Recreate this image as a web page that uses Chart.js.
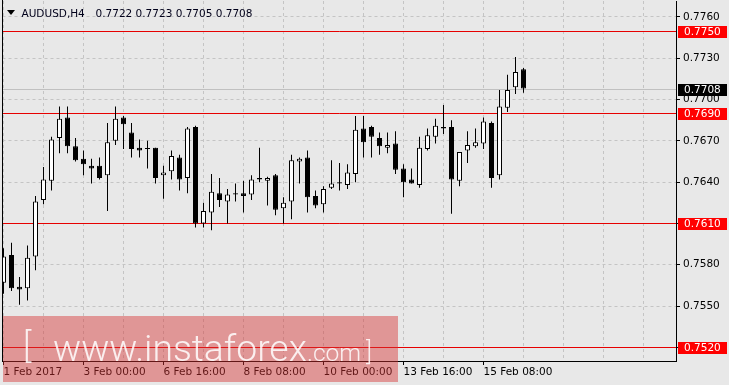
<!DOCTYPE html>
<html><head><meta charset="utf-8">
<script src="https://cdn.jsdelivr.net/npm/chart.js@4/dist/chart.umd.min.js"></script>
<style>html,body{margin:0;padding:0;background:#e8e8e8;overflow:hidden}canvas{display:block}</style>
</head><body>
<canvas id="c" width="729" height="385"></canvas>
<script>
const symbolTitle = 'AUDUSD,H4';
const xLabels = ['1 Feb 2017','3 Feb 00:00','6 Feb 16:00','8 Feb 08:00','10 Feb 00:00','13 Feb 16:00','15 Feb 08:00'];
const xLabelIdx = [0,10,20,30,40,50,60];
const yTicks = [0.7520,0.7550,0.7580,0.7610,0.7640,0.7670,0.7700,0.7730,0.7760];
const levels = [0.7750,0.7690,0.7610,0.7520];
const lastPrice = 0.7708;

const open = [0.7567,0.7587,0.7564,0.7563,0.7586,0.7627,0.7641,0.7672,0.7687,0.7666,
0.7657,0.7652,0.7652,0.7645,0.7670,0.7687,0.7676,0.7665,0.7664,0.7665,
0.7645,0.7648,0.7658,0.7643,0.7680,0.7610,0.7618,0.7632,0.7626,0.7632,
0.7632,0.7631,0.7643,0.7641,0.7645,0.7621,0.7626,0.7655,0.7658,0.7630,
0.7624,0.7636,0.7640,0.7638,0.7646,0.7679,0.7680,0.7672,0.7665,0.7668,
0.7650,0.7642,0.7638,0.7664,0.7673,0.7680,0.7680,0.7641,0.7663,0.7666,
0.7668,0.7683,0.7645,0.7694,0.7709,0.7722];
const high = [0.7592,0.7596,0.7571,0.7594,0.7630,0.7651,0.7673,0.7695,0.7695,0.7672,
0.7663,0.7657,0.7658,0.7683,0.7695,0.7688,0.7683,0.7671,0.7670,0.7665,
0.7652,0.7663,0.7660,0.7680,0.7681,0.7625,0.7646,0.7643,0.7635,0.7639,
0.7641,0.7645,0.7665,0.7644,0.7646,0.7629,0.7660,0.7658,0.7663,0.7634,
0.7637,0.7656,0.7654,0.7653,0.7688,0.7688,0.7681,0.7676,0.7676,0.7677,
0.7653,0.7650,0.7673,0.7679,0.7686,0.7696,0.7685,0.7662,0.7677,0.7679,
0.7687,0.7684,0.7707,0.7718,0.7731,0.7723];
const low = [0.7559,0.7561,0.7551,0.7554,0.7576,0.7624,0.7634,0.7661,0.7661,0.7655,
0.7645,0.7639,0.7642,0.7619,0.7667,0.7664,0.7658,0.7658,0.7650,0.7639,
0.7628,0.7642,0.7634,0.7632,0.7607,0.7607,0.7605,0.7622,0.7610,0.7626,
0.7618,0.7627,0.7640,0.7623,0.7616,0.7610,0.7613,0.7639,0.7618,0.7621,
0.7618,0.7635,0.7634,0.7635,0.7640,0.7658,0.7658,0.7660,0.7661,0.7646,
0.7629,0.7639,0.7636,0.7663,0.7668,0.7675,0.7617,0.7637,0.7654,0.7665,
0.7664,0.7636,0.7642,0.7691,0.7704,0.7705];
const close = [0.7586,0.7563,0.7562,0.7585,0.7626,0.7642,0.7671,0.7686,0.7666,0.7656,
0.7653,0.7650,0.7643,0.7669,0.7686,0.7682,0.7664,0.7663,0.7664,0.7643,
0.7647,0.7659,0.7642,0.7679,0.7610,0.7619,0.7633,0.7627,0.7631,0.7631,
0.7630,0.7642,0.7642,0.7643,0.7620,0.7625,0.7656,0.7657,0.7629,0.7623,
0.7635,0.7639,0.7639,0.7647,0.7678,0.7669,0.7673,0.7666,0.7667,0.7649,
0.7640,0.7639,0.7665,0.7674,0.7681,0.7679,0.7642,0.7662,0.7667,0.7669,
0.7684,0.7643,0.7695,0.7707,0.7720,0.7708];

const FONT = '"DejaVu Sans", sans-serif';
const bodyData = open.map((o, i) => ({x: i, y: [o, close[i]]}));
const wickData = low.map((l, i) => ({x: i, y: [l, high[i]]}));
const bodyColors = open.map((o, i) => close[i] >= o ? '#ffffff' : '#000000');

const bgPlugin = {
  id: 'bg',
  beforeDraw(ch) {
    const c = ch.ctx; c.save(); c.fillStyle = '#e8e8e8'; c.fillRect(0, 0, ch.width, ch.height); c.restore();
  }
};

const linesPlugin = {
  id: 'lines',
  beforeDatasetsDraw(ch) {
    const {ctx, chartArea: a, scales: {y}} = ch;
    ctx.save();
    ctx.beginPath(); ctx.rect(a.left, a.top, a.right - a.left, a.bottom - a.top); ctx.clip();
    ctx.lineWidth = 1; ctx.setLineDash([]);
    const hl = (v, col) => {
      const p = Math.round(y.getPixelForValue(v)) + 0.5;
      ctx.strokeStyle = col; ctx.beginPath(); ctx.moveTo(a.left, p); ctx.lineTo(a.right, p); ctx.stroke();
    };
    hl(lastPrice, '#c0c0c0');
    levels.forEach(v => hl(v, '#e60000'));
    ctx.restore();
  },
  afterDatasetsDraw(ch) {
    const {ctx, chartArea: a} = ch;
    ctx.save(); ctx.strokeStyle = '#000'; ctx.lineWidth = 1; ctx.setLineDash([]);
    const xl = Math.floor(a.left) + 0.5;
    ctx.beginPath(); ctx.moveTo(xl, 0); ctx.lineTo(xl, a.bottom + 1); ctx.stroke();
    ctx.restore();
  }
};

const overlayPlugin = {
  id: 'overlay',
  afterDraw(ch) {
    const {ctx, scales: {y}} = ch;
    ctx.save();
    ctx.font = '10.5px ' + FONT; ctx.textBaseline = 'middle'; ctx.textAlign = 'left';
    const box = (v, bg) => {
      const p = Math.round(y.getPixelForValue(v));
      ctx.fillStyle = bg; ctx.fillRect(678, p - 5, 49, 12);
      ctx.fillStyle = '#ffffff'; ctx.fillText(v.toFixed(4), 684, p + 1.5);
    };
    levels.forEach(v => box(v, '#ff0000'));
    box(lastPrice, '#000000');
    ctx.fillStyle = '#000';
    ctx.beginPath(); ctx.moveTo(7, 10); ctx.lineTo(15, 10); ctx.lineTo(11, 15); ctx.closePath(); ctx.fill();
    ctx.textBaseline = 'alphabetic';
    ctx.fillStyle = '#00001a';
    ctx.fillText(symbolTitle, 21.5, 16.5);
    const n = open.length - 1;
    ctx.fillText([open[n], high[n], low[n], close[n]].map(v => v.toFixed(4)).join(' '), 95.5, 16.5);
    ctx.fillStyle = 'rgba(214,52,52,0.45)';
    ctx.fillRect(3, 316, 395, 66);
    ctx.fillStyle = 'rgba(255,255,255,0.85)';
    const fam = 'Roboto, "Liberation Sans", sans-serif';
    ctx.font = '300 37px ' + fam;
    const w = ctx.measureText('www.instaforex').width;
    const fs = 37 * 254 / w;
    ctx.font = '300 ' + fs.toFixed(1) + 'px ' + fam;
    ctx.fillText('www.instaforex', 53, 361);
    ctx.font = '300 ' + (fs * 0.66).toFixed(1) + 'px ' + fam;
    ctx.fillText('.com', 307, 361);
    ctx.font = '300 35px ' + fam;
    ctx.fillText('[', 23, 358);
    ctx.font = '300 25px ' + fam;
    ctx.fillText(']', 366, 360);
    ctx.restore();
  }
};

new Chart(document.getElementById('c'), {
  type: 'bar',
  data: {
    datasets: [
      {data: bodyData, backgroundColor: bodyColors, borderColor: '#000', borderWidth: 1,
       borderSkipped: false, barThickness: 5, minBarLength: 1, grouped: false, inflateAmount: 0, order: 0},
      {data: wickData, backgroundColor: '#000', borderWidth: 0, barThickness: 1,
       grouped: false, inflateAmount: 0, order: 1}
    ]
  },
  options: {
    responsive: false, animation: false, events: [], devicePixelRatio: 1,
    layout: {padding: {left: 2.5, top: 1, right: 0, bottom: 0}},
    plugins: {legend: {display: false}, tooltip: {enabled: false}},
    scales: {
      x: {
        type: 'linear', min: -0.125, max: 84.0625, offset: false,
        afterBuildTicks: s => { const t = []; for (let v = 0; v <= 80; v += 5) t.push({value: v}); s.ticks = t; },
        afterFit: s => { s.height = 24; s.paddingLeft = 0; s.paddingRight = 0; },
        grid: {offset: false, color: '#c4c4c4', lineWidth: 1, drawTicks: true, tickLength: 4, tickBorderDash: [],
               tickColor: c => (c.tick && xLabelIdx.includes(c.tick.value)) ? '#000' : 'rgba(0,0,0,0)'},
        border: {display: true, color: '#000', width: 1, dash: [3, 3]},
        ticks: {autoSkip: false, maxRotation: 0, minRotation: 0, align: 'start', padding: 1, color: '#000',
                font: {family: FONT, size: 10.5},
                callback: v => { const i = xLabelIdx.indexOf(v); return i >= 0 ? xLabels[i] : ''; }}
      },
      y: {
        type: 'linear', position: 'right', min: 0.7510055, max: 0.7771625,
        afterBuildTicks: s => { s.ticks = yTicks.map(v => ({value: v})); },
        afterFit: s => { s.width = 53; s.paddingTop = 0; s.paddingBottom = 0; },
        grid: {color: '#c4c4c4', lineWidth: 1, drawTicks: true, tickLength: 4, tickBorderDash: [], tickColor: '#000'},
        border: {display: true, color: '#000', width: 1, dash: [3, 3]},
        ticks: {padding: 3, color: '#000', font: {family: FONT, size: 10.5}, callback: v => v.toFixed(4)}
      }
    }
  },
  plugins: [bgPlugin, linesPlugin, overlayPlugin]
});
</script>
</body></html>
